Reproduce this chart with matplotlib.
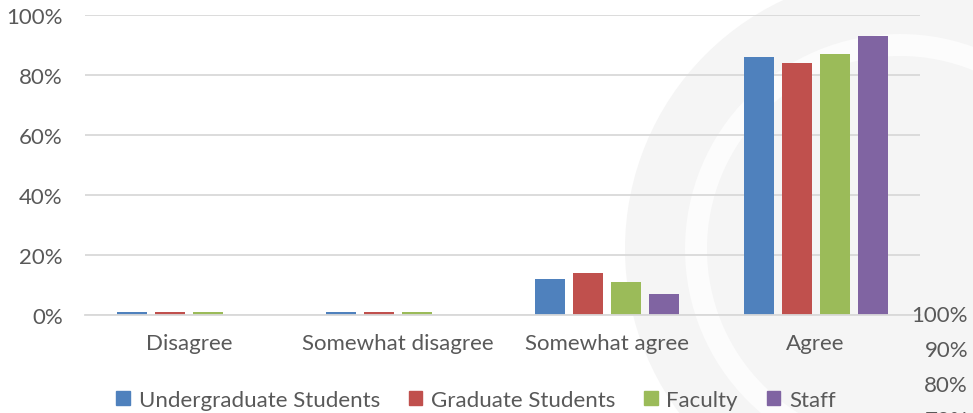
import numpy as np
import matplotlib
matplotlib.use("Agg")
import matplotlib.pyplot as plt
from matplotlib.patches import Circle, Wedge, Patch

plt.rcParams['font.family'] = ['Lato', 'DejaVu Sans']

# data
categories = ["Disagree", "Somewhat disagree", "Somewhat agree", "Agree"]
groups = ["Undergraduate Students", "Graduate Students", "Faculty", "Staff"]
undergrad = [1, 1, 12, 86]
graduate = [1, 1, 14, 84]
faculty = [1, 1, 11, 87]
staff = [0, 0, 7, 93]
series = [undergrad, graduate, faculty, staff]
colors = ["#4f81bd", "#c0504d", "#9bbb59", "#8064a2"]
y_ticks = [0, 20, 40, 60, 80, 100]
stray_labels = ["100%", "90%", "80%", "70%"]

TEXT = "#595959"
GRID = "#d9d9d9"
FS = 16

W, H = 973, 414
fig = plt.figure(figsize=(W / 100, H / 100), dpi=100)

# faint watermark behind the chart
bg = fig.add_axes([0, 0, 1, 1], zorder=0)
bg.set_xlim(0, W)
bg.set_ylim(H, 0)
bg.axis("off")
bg.add_patch(Circle((900, 250), 275, color="#f5f5f5", lw=0))
bg.add_patch(Wedge((900, 250), 215, 0, 360, width=22, color="#fcfcfc", lw=0))

ax = fig.add_axes([85 / W, 98 / H, 835 / W, 300 / H], zorder=1)
ax.patch.set_alpha(0)

x = np.arange(len(categories))
step = 0.182
width = 0.144
for i, (vals, name, c) in enumerate(zip(series, groups, colors)):
    ax.bar(x + (i - 1.5) * step, vals, width, color=c, label=name, zorder=3)

ax.set_xlim(-0.5, len(categories) - 0.5)
ax.set_ylim(0, 100)
ax.set_yticks(y_ticks)
ax.set_yticklabels([f"{t}%" for t in y_ticks])
ax.set_xticks(x)
ax.set_xticklabels(categories)
ax.yaxis.grid(True, color=GRID, lw=1.3, zorder=0)
ax.tick_params(length=0, labelsize=FS, colors=TEXT)
ax.tick_params(axis="y", pad=16)
ax.tick_params(axis="x", pad=13)
for s in ["top", "right", "left"]:
    ax.spines[s].set_visible(False)
ax.spines["bottom"].set_color(GRID)
ax.spines["bottom"].set_linewidth(1.3)
ax.spines["bottom"].set_zorder(4)

handles = [Patch(color=c, label=n) for c, n in zip(colors, groups)]
fig.legend(handles=handles, loc="center", bbox_to_anchor=(476 / W, 13 / H), ncol=4,
           frameon=False, fontsize=FS, labelcolor=TEXT, handlelength=0.6, handleheight=0.6,
           handletextpad=0.4, columnspacing=1.3, borderaxespad=0, borderpad=0)

# labels from the neighbouring chart that show at the bottom right
for k, lab in enumerate(stray_labels):
    fig.text(968 / W, 1 - (316 + 35 * k) / H, lab, ha="right", va="center",
             fontsize=FS, color=TEXT)

fig.savefig("out.png", dpi=100)
